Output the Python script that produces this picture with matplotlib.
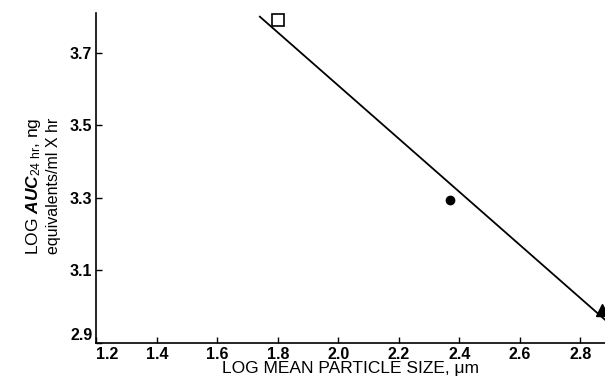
import numpy as np
import matplotlib
matplotlib.use("Agg")
import matplotlib.pyplot as plt

# data
size_sq = [1.80]
auc_sq = [3.79]
size_dot = [2.37]
auc_dot = [3.295]
size_tri = [2.87]
auc_tri = [2.99]
line_x = [1.74, 2.90]
line_y = [3.80, 2.95]

xticks = [1.2, 1.4, 1.6, 1.8, 2.0, 2.2, 2.4, 2.6, 2.8]
yticks = [2.9, 3.1, 3.3, 3.5, 3.7]

plt.rcParams['font.family'] = ['Liberation Sans', 'DejaVu Sans']
plt.rcParams['mathtext.fontset'] = 'custom'
plt.rcParams['mathtext.rm'] = 'Liberation Sans'
plt.rcParams['mathtext.it'] = 'Liberation Sans:italic:bold'

fig = plt.figure(figsize=(6.05, 3.84), dpi=100)
ax = fig.add_axes([0.1595, 0.107, 0.8405, 0.859])

ax.plot(line_x, line_y, color="black", lw=1.3)
ax.plot(size_sq, auc_sq, marker="s", ms=8, mfc="white", mec="black", mew=1.2, ls="none")
ax.plot(size_dot, auc_dot, marker="o", ms=6, color="black", ls="none")
ax.plot(size_tri, auc_tri, marker="^", ms=9, color="black", ls="none", clip_on=False)

ax.set_xlim(1.2, 2.881)
ax.set_ylim(2.9, 3.81)
ax.set_xticks(xticks)
ax.set_yticks(yticks)
ax.set_xticklabels(["%.1f" % v for v in xticks], fontsize=11.5, fontweight="bold")
ax.set_yticklabels(["%.1f" % v for v in yticks], fontsize=11.5, fontweight="bold")
ax.tick_params(direction="in", length=4, width=1)
ax.tick_params(axis="x", pad=3)
ax.tick_params(axis="y", pad=3)
# first x label sits just right of the corner, as in the original
ax.get_xticklabels()[0].set_ha("left")
ax.get_yticklabels()[0].set_va("bottom")
ax.spines["top"].set_visible(False)
ax.spines["right"].set_visible(False)
ax.spines["left"].set_linewidth(1.2)
ax.spines["bottom"].set_linewidth(1.2)

ax.set_xlabel("LOG MEAN PARTICLE SIZE, μm", fontsize=12.5, labelpad=-1)

fig.text(0.055, 0.515, r"LOG $AUC_{24\ \mathrm{hr}}$, ng", rotation=90,
         fontsize=12.5, ha="center", va="center")
fig.text(0.088, 0.515, "equivalents/ml X hr", rotation=90,
         fontsize=11.5, ha="center", va="center")

fig.savefig("out.png", dpi=100)
